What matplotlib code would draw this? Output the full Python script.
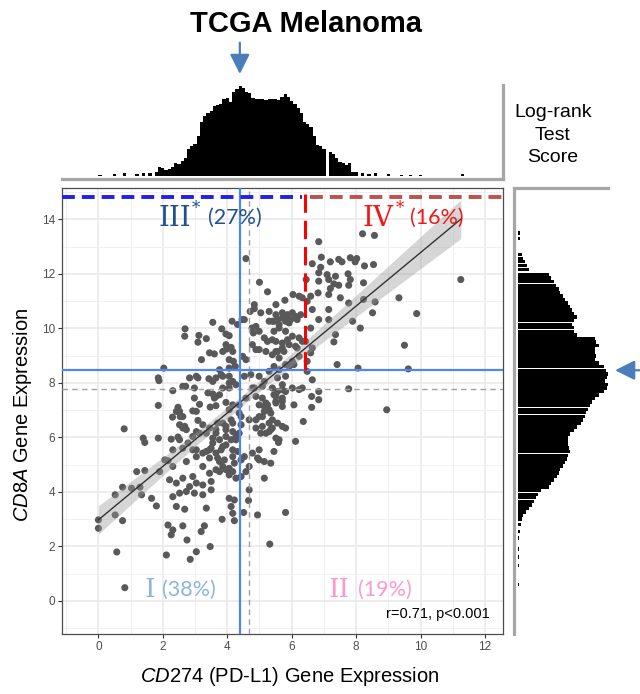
import numpy as np
import matplotlib
matplotlib.use("Agg")
import matplotlib.pyplot as plt

plt.rcParams['font.family'] = ['Liberation Sans', 'DejaVu Sans']
plt.rcParams['mathtext.fontset'] = 'custom'
plt.rcParams['mathtext.it'] = 'Liberation Sans:italic'
plt.rcParams['mathtext.rm'] = 'Liberation Sans'

# ---------------- data ----------------
cd274 = [4.58, 5.00, 5.25, 5.79, 4.71, 4.84, 4.46, 4.15, 3.55, 2.69, 2.68, 3.83, 3.96, 3.12, 3.35, 3.20,
         3.60, 3.86, 3.98, 4.12, 4.06, 4.19, 4.25, 4.77, 4.89, 4.81, 4.99, 5.15, 5.25, 5.40, 4.99, 5.20,
         5.40, 5.56, 5.71, 5.45, 5.61, 5.81, 5.92, 2.03, 1.86, 1.88, 2.31, 2.71, 2.83, 3.09, 2.98, 3.43,
         3.55, 3.65, 3.40, 3.55, 3.65, 3.60, 3.86, 4.06, 4.17, 3.86, 4.06, 4.27, 4.53, 4.73, 1.86, 2.47,
         2.52, 2.93, 3.04, 4.78, 4.58, 4.89, 5.09, 5.25, 4.99, 5.40, 5.56, 5.71, 5.81, 5.30, 5.45, 5.61,
         5.81, 4.99, 5.15,
         8.20, 8.57, 6.84, 6.92, 7.20, 7.46, 7.56, 7.82, 8.02, 7.97, 8.26, 8.54, 6.64, 6.90, 6.84, 7.10,
         7.36, 7.75, 7.82, 6.84, 7.15, 7.31, 7.46, 7.20, 7.77, 8.23, 6.45, 11.25, 6.59, 6.82, 6.48, 7.15,
         7.51, 7.77, 8.23, 8.59, 9.33, 9.88, 8.51, 7.15, 6.64, 6.84, 7.15, 6.59, 7.36, 7.31, 8.13, 7.89,
         9.50, 6.59, 7.41, 8.06, 9.62, 6.64, 6.43, 7.77, 8.95, 6.84, 6.62, 6.84, 6.62,
         6.04, 6.23, 6.33, 5.51, 5.40, 5.56, 5.71, 5.87, 6.02, 6.12, 6.28, 5.45, 5.61, 5.81, 6.02, 6.23,
         6.33, 5.92, 6.17, 5.76, 5.51, 5.61, 5.92, 6.07, 5.56, 5.81, 5.45, 5.71, 6.02, 6.33, 5.71, 6.07,
         6.48, 6.64,
         3.14, 3.47, 3.65, 3.96, 4.17, 4.37, 2.30, 2.54, 2.68, 2.26, 2.47, 2.78, 3.09, 3.14, 2.93, 3.35,
         3.45, 3.65, 3.86, 3.96, 4.12, 4.17, 4.27, 4.43, 4.43, 4.37, 0.80, 1.39, 1.44, 1.86, 2.31, 3.04,
         3.24, 3.45, 3.55, 3.76, 3.86, 3.65, 2.16, 2.31, 1.19, 1.44, 1.90, 2.06, 3.76, 3.86, 3.76, 3.96,
         4.06, 4.17, 4.27, 4.43, 4.58, 4.68, 4.53, 4.43, 4.78, 4.99, 5.15, 5.35, 4.99, 4.99, 5.09, 5.20,
         5.40, 5.56, 5.61, 5.45, 5.81, 5.15, 5.30, 5.51, 2.21, 2.42, 2.62, 2.83, 3.04, 3.24, 3.50, 3.50,
         3.24, 2.98, 2.73, 2.52, 2.31, 0.52, 0.75, 1.03, 1.29, 1.34, 1.65, 1.80, 0.00, 0.00, 0.52, 0.75,
         2.42, 2.68, 3.35, 4.06, 4.22, 4.12, 4.17, 3.84, 4.22, 4.51, 4.94, 4.68, 4.66, 5.81, 2.16, 2.31,
         2.26, 2.62, 2.75, 3.19, 3.29, 3.47, 3.04, 2.85, 2.11, 0.57, 5.32, 0.82,
         5.71, 5.35, 5.40, 5.30, 5.71, 6.36, 6.12, 5.51, 5.59,
         4.84, 5.09, 5.71, 6.23, 5.51, 5.51, 5.20, 5.15, 5.09, 5.30, 4.89, 4.68, 4.89, 5.04, 5.35, 4.94,
         5.15,
         3.04, 3.81, 4.06, 2.62, 2.98, 3.76, 2.42, 2.62, 2.52, 2.62, 2.73, 3.24, 3.70, 3.96, 4.17, 4.06,
         4.37, 2.52, 3.04, 3.55, 3.65, 3.96, 4.12, 4.27, 2.62, 2.93, 3.04, 3.35, 3.50, 3.81, 3.96, 4.17,
         3.45, 3.70, 3.91, 4.17, 4.32, 2.73, 3.24, 3.45, 3.65, 4.06, 4.22, 2.93,
         4.53, 4.32, 3.09, 4.06, 3.96, 4.17, 3.45, 4.06, 3.76, 4.48, 4.58,
         4.84, 5.04, 5.30, 5.51, 5.71, 5.30, 5.81, 5.97, 6.17, 5.51, 5.71, 5.87, 4.78, 4.89, 6.12, 6.23,
         6.02, 6.48]

cd8a = [12.56, 11.69, 11.34, 11.03, 10.62, 10.72, 10.32, 10.26, 10.22, 9.98, 9.71, 9.98, 9.79, 9.74, 9.62, 8.85,
        9.06, 9.15, 9.24, 9.30, 8.85, 8.79, 8.60, 10.01, 10.07, 9.83, 9.89, 9.65, 9.52, 9.58, 9.22, 9.15,
        9.03, 9.15, 9.28, 10.26, 10.14, 10.38, 10.20, 8.54, 8.18, 8.08, 7.71, 7.87, 8.18, 8.18, 7.44, 8.15,
        8.05, 8.18, 7.63, 7.59, 7.50, 7.44, 8.24, 8.24, 8.05, 7.81, 7.81, 7.93, 8.24, 8.30, 7.17, 7.10,
        6.95, 6.97, 6.95, 7.81, 7.44, 7.50, 7.44, 7.19, 7.19, 7.81, 7.68, 7.93, 7.68, 8.42, 8.60, 8.48,
        8.67, 8.24, 8.05,
        13.47, 13.41, 13.18, 12.61, 12.44, 12.53, 12.44, 12.59, 12.56, 12.44, 12.29, 12.34, 12.37, 12.24, 12.04, 11.97,
        11.91, 12.00, 11.79, 11.73, 11.79, 11.63, 11.58, 11.46, 11.58, 11.67, 11.79, 11.79, 11.18, 11.30, 10.99, 11.24,
        11.12, 10.93, 11.06, 10.97, 11.12, 10.54, 10.57, 10.69, 10.69, 10.32, 10.32, 10.01, 9.77, 9.50, 10.01, 10.26,
        9.38, 9.10, 8.67, 8.54, 8.51, 9.28, 9.52, 7.78, 7.01, 7.68, 7.50, 7.38, 7.10,
        11.24, 11.18, 11.12, 10.87, 10.26, 10.32, 10.38, 10.50, 10.57, 10.44, 10.50, 9.89, 10.01, 9.89, 9.71, 9.65,
        9.52, 9.40, 9.28, 9.15, 9.15, 8.91, 8.60, 8.67, 8.18, 8.24, 7.56, 7.44, 7.81, 7.81, 7.13, 7.19,
        8.42, 8.11,
        7.21, 7.11, 7.16, 7.28, 7.19, 7.19, 6.74, 6.76, 6.40, 5.93, 6.01, 5.79, 6.62, 6.15, 6.03, 6.15,
        6.34, 6.28, 6.52, 6.28, 6.64, 6.21, 6.03, 6.76, 6.46, 6.15, 6.31, 5.97, 5.81, 5.97, 5.54, 5.54,
        5.42, 5.54, 5.79, 5.91, 5.66, 5.42, 5.14, 4.93, 4.74, 4.78, 4.74, 5.17, 5.11, 4.93, 4.74, 4.81,
        4.62, 4.74, 4.50, 4.56, 4.74, 4.93, 5.29, 5.17, 5.42, 5.54, 5.11, 5.05, 5.17, 6.76, 6.40, 6.15,
        6.64, 6.52, 5.91, 5.48, 6.34, 7.13, 7.01, 7.26, 4.44, 4.32, 4.50, 4.19, 4.32, 4.25, 4.38, 4.07,
        3.89, 3.95, 4.01, 3.95, 3.82, 3.89, 4.17, 4.13, 4.17, 3.89, 3.76, 3.48, 2.97, 2.66, 3.15, 2.94,
        3.46, 3.36, 3.40, 3.76, 3.70, 3.46, 3.21, 2.99, 2.94, 3.24, 3.15, 4.07, 3.68, 3.24, 2.78, 2.60,
        2.42, 2.75, 2.23, 2.54, 2.75, 1.99, 1.80, 1.52, 1.68, 1.79, 2.08, 0.48,
        7.32, 6.89, 6.34, 6.21, 6.40, 6.58, 5.85, 5.97, 5.81,
        7.81, 7.87, 7.75, 7.75, 7.50, 7.32, 7.26, 6.95, 6.76, 6.52, 6.64, 6.64, 6.34, 6.15, 6.28, 5.24,
        4.50,
        8.24, 8.30, 7.99, 7.87, 7.81, 7.56, 6.95, 6.76, 6.46, 6.34, 6.28, 6.46, 6.52, 6.40, 6.52, 7.01,
        6.89, 5.91, 6.21, 5.97, 6.15, 6.03, 5.91, 5.91, 5.60, 5.54, 5.29, 5.48, 5.60, 5.54, 5.72, 5.54,
        5.24, 5.24, 5.17, 5.29, 5.48, 5.11, 4.93, 4.68, 4.81, 4.86, 5.05, 4.56,
        10.32, 10.14, 9.49, 9.73, 9.40, 9.15, 9.10, 8.54, 8.48, 8.97, 8.85,
        10.87, 10.57, 10.62, 10.50, 10.57, 10.26, 10.26, 10.32, 10.32, 9.52, 9.46, 9.58, 9.40, 9.22, 9.34, 8.97,
        8.79, 8.79]

# top marginal: log-rank test score at each CD274 cutoff (relative)
top_cut = [0.05, 0.5, 0.8, 1.2, 1.4, 1.6, 1.8, 1.9, 2.0, 2.1, 2.2, 2.3, 2.4, 2.5, 2.6, 2.7, 2.8, 2.9,
           3.0, 3.1, 3.2, 3.3, 3.4, 3.5, 3.6, 3.7, 3.8, 3.9, 4.0, 4.1, 4.2, 4.3, 4.4, 4.5, 4.6, 4.7,
           4.8, 4.9, 5.0, 5.1, 5.2, 5.3, 5.4, 5.5, 5.6, 5.7, 5.8, 5.9, 6.0, 6.1, 6.2, 6.3, 6.4, 6.5,
           6.6, 6.7, 6.8, 6.9, 7.0, 7.2, 7.3, 7.4, 7.5, 7.6, 7.7, 7.8, 7.9, 8.0, 8.2, 8.4, 8.6, 9.0,
           9.4, 9.7, 10.0, 11.3]
top_score = [0.01, 0.02, 0.03, 0.02, 0.03, 0.03, 0.05, 0.10, 0.09, 0.07, 0.08, 0.10, 0.14, 0.13, 0.17, 0.20, 0.30, 0.33,
             0.36, 0.45, 0.60, 0.67, 0.70, 0.72, 0.78, 0.79, 0.80, 0.85, 0.87, 0.82, 0.93, 0.97, 1.00, 0.98, 0.93, 0.92,
             0.87, 0.85, 0.86, 0.85, 0.84, 0.86, 0.85, 0.86, 0.84, 0.88, 0.91, 0.88, 0.83, 0.80, 0.76, 0.70, 0.60, 0.58,
             0.55, 0.45, 0.35, 0.33, 0.30, 0.27, 0.25, 0.20, 0.16, 0.15, 0.12, 0.15, 0.05, 0.04, 0.03, 0.02, 0.03, 0.02,
             0.01, 0.01, 0.01, 0.02]

# right marginal: log-rank test score at each CD8A cutoff (relative)
right_cut = [13.5, 13.3, 12.7, 12.57, 12.45, 12.3, 12.15, 11.97, 11.84, 11.71, 11.58, 11.45, 11.32, 11.19, 11.06,
             10.93, 10.80, 10.67, 10.54, 10.41, 10.28, 10.15, 10.02, 9.89, 9.76, 9.63, 9.50, 9.37, 9.24, 9.11,
             8.98, 8.85, 8.72, 8.59, 8.46, 8.33, 8.20, 8.07, 7.94, 7.81, 7.68, 7.55, 7.42, 7.29, 7.16, 7.03,
             6.90, 6.77, 6.64, 6.51, 6.38, 6.25, 6.12, 5.99, 5.86, 5.73, 5.60, 5.47, 5.34, 5.21, 5.08, 4.95,
             4.82, 4.69, 4.56, 4.43, 4.30, 4.17, 4.04, 3.91, 3.78, 3.65, 3.52, 3.39, 3.26, 3.13, 3.00, 2.80,
             2.55, 2.30, 1.90, 1.60, 1.30, 0.60]
right_score = [0.02, 0.02, 0.04, 0.06, 0.08, 0.10, 0.12, 0.34, 0.37, 0.40, 0.42, 0.45, 0.47, 0.50, 0.52,
               0.55, 0.58, 0.60, 0.62, 0.65, 0.62, 0.60, 0.62, 0.62, 0.65, 0.85, 0.87, 0.90, 0.85, 0.85,
               0.87, 0.86, 0.90, 0.96, 0.98, 1.00, 0.99, 0.97, 1.00, 0.99, 0.95, 0.90, 0.86, 0.82, 0.80, 0.78,
               0.76, 0.74, 0.72, 0.70, 0.66, 0.62, 0.58, 0.55, 0.55, 0.56, 0.57, 0.58, 0.56, 0.54, 0.52, 0.50,
               0.47, 0.45, 0.43, 0.40, 0.37, 0.34, 0.25, 0.22, 0.20, 0.18, 0.15, 0.12, 0.09, 0.06, 0.04, 0.03,
               0.02, 0.015, 0.01, 0.015, 0.01, 0.01]

cut_cd274 = 4.39      # optimal CD274 cutoff (solid blue)
median_cd274 = 4.68   # median (gray dashed)
cut_cd8a = 8.46       # optimal CD8A cutoff (solid blue)
median_cd8a = 7.78    # median (gray dashed)
red_cut = 6.42        # red dashed vertical
top_line_y = 14.81

quad_labels = [("III", "*", "(27%)", '#24508A'),
               ("IV", "*", "(16%)", '#F01818'),
               ("I", "", "(38%)", '#8DB4E2'),
               ("II", "", "(19%)", '#FF99CC')]

# ---------------- layout ----------------
W, H = 640, 694
fig = plt.figure(figsize=(W / 100, H / 100), dpi=100)


def rect(l, t, r, b):
    return [l / W, 1 - b / H, (r - l) / W, (b - t) / H]


ax = fig.add_axes(rect(62, 188, 503, 634))
ax_top = fig.add_axes(rect(62, 85, 503, 179))
ax_r = fig.add_axes(rect(514, 188, 608, 634))

XLIM = (-1.13, 12.56)
YLIM = (-1.22, 15.15)

# ---------------- main scatter ----------------
x = np.array(cd274)
y = np.array(cd8a)
ax.set_xlim(*XLIM)
ax.set_ylim(*YLIM)
ax.set_xticks(np.arange(0, 13, 2))
ax.set_yticks(np.arange(0, 15, 2))
ax.set_xticks(np.arange(-1, 13, 2), minor=True)
ax.set_yticks(np.arange(-1, 16, 2), minor=True)
ax.grid(which='major', color='#E8E8E8', lw=1.1, zorder=0)
ax.grid(which='minor', color='#F0F0F0', lw=0.7, zorder=0)
ax.set_axisbelow(True)
ax.tick_params(which='major', length=3, width=0.8, color='#333333', labelsize=8.5,
               labelcolor='#4D4D4D', pad=2)
ax.tick_params(which='minor', length=0)
for sp in ax.spines.values():
    sp.set_color('#4D4D4D')
    sp.set_linewidth(0.9)

ax.scatter(x, y, s=26, color='#595959', edgecolors='none', zorder=2)

# linear fit with 95% CI ribbon
b, a = np.polyfit(x, y, 1)
xs = np.linspace(x.min(), x.max(), 200)
n = len(x)
resid = y - (a + b * x)
s = np.sqrt(np.sum(resid ** 2) / (n - 2))
sxx = np.sum((x - x.mean()) ** 2)
se = s * np.sqrt(1 / n + (xs - x.mean()) ** 2 / sxx)
yfit = a + b * xs
ax.fill_between(xs, yfit - 1.966 * se, yfit + 1.966 * se, color='#999999', alpha=0.4,
                lw=0, zorder=3)
ax.plot(xs, yfit, color='#333333', lw=1.0, zorder=4)

# reference lines
ax.axvline(median_cd274, color='#A0A0A0', lw=1.0, ls=(0, (4, 3)), zorder=5)
ax.axhline(median_cd8a, color='#A0A0A0', lw=1.0, ls=(0, (4, 3)), zorder=5)
ax.axvline(cut_cd274, color='#4F86F0', lw=1.6, zorder=6)
ax.axhline(cut_cd8a, color='#4F86F0', lw=1.6, zorder=6)
ax.plot([XLIM[0], red_cut - 0.1], [top_line_y, top_line_y], color='#2020E8', lw=2.8,
        ls=(0, (3.3, 1.8)), solid_capstyle='butt', zorder=7)
ax.plot([red_cut + 0.15, XLIM[1]], [top_line_y, top_line_y], color='#C0504D', lw=2.8,
        ls=(0, (3.3, 1.8)), solid_capstyle='butt', zorder=7)
ax.plot([red_cut, red_cut], [cut_cd8a, YLIM[1]], color='#FF0000', lw=2.2,
        ls=(0, (6, 2.6)), zorder=7)

# quadrant labels (pixel positions)
label_pos = [(159, 226, 192, 213, 208, 224, 20),
             (363, 226, 396, 213, 410, 224, 20),
             (144, 597, None, None, 162, 596, 19),
             (329, 597, None, None, 358, 596, 19)]
for (num, star, pct, col), (nx, ny, sx, sy, px_, py_, fs) in zip(quad_labels, label_pos):
    fig.text(nx / W, 1 - ny / H, num, family='DejaVu Serif', fontsize=fs, color=col,
             ha='left', va='baseline')
    if star:
        fig.text(sx / W, 1 - sy / H, star, family='DejaVu Serif', fontsize=12, color=col,
                 ha='left', va='baseline')
    fig.text(px_ / W, 1 - py_ / H, pct, family='Lato', fontsize=15.5, color=col,
             ha='left', va='baseline')

fig.text(490 / W, 1 - 618 / H, 'r=0.71, p<0.001', fontsize=10.5, color='black',
         ha='right', va='baseline')

# axis labels
fig.text(290 / W, 1 - 676 / H, r'$\it{CD274}$ (PD-L1) Gene Expression', fontsize=14.5,
         ha='center', va='center')
fig.text(23 / W, 1 - 415 / H, r'$\it{CD8A}$ Gene Expression', fontsize=14.5,
         ha='center', va='center', rotation=90)

# ---------------- top marginal ----------------
ax_top.bar(top_cut, top_score, width=0.1, color='black', lw=0)
ax_top.set_xlim(*XLIM)
ax_top.set_ylim(-0.033, 1.011)
ax_top.set_xticks([])
ax_top.set_yticks([])
for k, sp in ax_top.spines.items():
    if k in ('bottom', 'right'):
        sp.set_color('#A6A6A6')
        sp.set_linewidth(2.3)
    else:
        sp.set_visible(False)

# ---------------- right marginal ----------------
ax_r.barh(right_cut, right_score, height=0.125, color='black', lw=0)
ax_r.set_ylim(*YLIM)
ax_r.set_xlim(-0.045, 1.0)
ax_r.set_xticks([])
ax_r.set_yticks([])
for k, sp in ax_r.spines.items():
    if k in ('left', 'top'):
        sp.set_color('#A6A6A6')
        sp.set_linewidth(2.3)
    else:
        sp.set_visible(False)

# ---------------- titles / arrows ----------------
fig.text(306 / W, 1 - 32 / H, 'TCGA Melanoma', fontsize=21, fontweight='bold',
         ha='center', va='baseline')
fig.text(553 / W, 1 - 135 / H, 'Log-rank\nTest\nScore', fontsize=14, ha='center',
         va='center', linespacing=1.45)

arrow_col = '#4A7EBB'
ax_top.annotate('', xy=(cut_cd274, 1.117), xycoords=('data', 'axes fraction'),
                xytext=(cut_cd274, 1.45), textcoords=('data', 'axes fraction'),
                arrowprops=dict(arrowstyle='-|>,head_length=0.6,head_width=0.3',
                                color=arrow_col, lw=1.6, mutation_scale=20,
                                shrinkA=0, shrinkB=0),
                annotation_clip=False)
ax_r.annotate('', xy=(1.075, cut_cd8a), xycoords=('axes fraction', 'data'),
              xytext=(1.40, cut_cd8a), textcoords=('axes fraction', 'data'),
              arrowprops=dict(arrowstyle='-|>,head_length=0.6,head_width=0.3',
                              color=arrow_col, lw=1.6, mutation_scale=20,
                              shrinkA=0, shrinkB=0),
              annotation_clip=False)

fig.savefig('out.png', dpi=100)
